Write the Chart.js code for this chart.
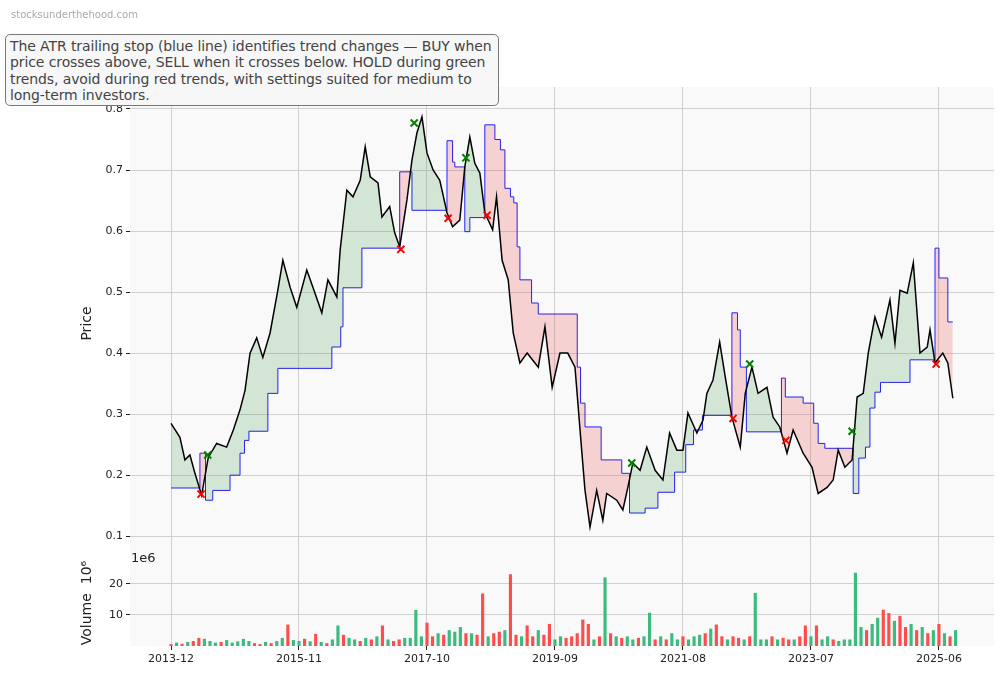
<!DOCTYPE html>
<html>
<head>
<meta charset="utf-8">
<script src="https://cdn.jsdelivr.net/npm/chart.js@4.4.1/dist/chart.umd.min.js"></script>
<style>
  body { margin: 0; background: #fff; font-family: "DejaVu Sans", sans-serif; }
  #wrap { position: relative; width: 1004px; height: 678px; }
  #mark { position: absolute; left: 11px; top: 9px; font-size: 10px; color: #aaa; }
  #note { position: absolute; left: 5px; top: 34px; width: 482px; padding: 3px 6px 2px 4px;
    border: 1.3px solid #777; border-radius: 5px; background: #f7f7f7; color: #444;
    font-size: 14px; line-height: 16.3px; white-space: nowrap; letter-spacing: -0.1px; }
  #e6 { position: absolute; left: 131px; top: 550px; font-size: 13px; color: #222; }
</style>
</head>
<body>
<div id="wrap">
  <canvas id="c" width="1004" height="678"></canvas>
  <div id="mark">stocksunderthehood.com</div>
  <div id="note">The ATR trailing stop (blue line) identifies trend changes — BUY when<br>price crosses above, SELL when it crosses below. HOLD during green<br>trends, avoid during red trends, with settings suited for medium to<br>long-term investors.</div>
  <div id="e6">1e6</div>
</div>
<script>
Chart.defaults.font.family = '"DejaVu Sans", sans-serif';

// x values are months since 2013-12
const tickMonths = [0, 23, 46, 69, 92, 115, 138];
const tickLabels = ['2013-12', '2015-11', '2017-10', '2019-09', '2021-08', '2023-07', '2025-06'];

const priceX = [0,1.6,2.5,3.4,4.3,5.5,6.7,8.2,10,11.2,12.4,13.3,14.2,15.4,16.5,17.8,19.2,20.1,21.4,22.6,
  24.4,25.5,27.1,28.2,29.8,30.4,31.6,32.7,34,34.9,35.8,37.2,37.9,39.3,40.2,41.1,42.4,43.3,44.2,45.1,
  46,47.1,48.3,49.6,50.6,51.9,52.8,53.7,54.6,55.5,56.4,57.8,58.5,59.5,60.6,61.5,62.7,64,66,67.2,
  68.5,69.9,71.3,72.6,73.8,74.4,75.3,76.5,77.6,78.3,80.1,81.2,82.1,83,84.3,85.5,87,88.4,89.6,90.9,
  92,92.9,94.5,95.6,96.3,97.4,98.6,99.6,100.8,102.3,103.2,104.4,105.5,107.1,108.2,109.4,110.7,111.8,113.6,115.2,
  116.3,117.9,119,119.9,121.1,122.4,123.3,124.4,125.3,126.5,127.7,129.2,130.1,131,132.3,133.4,134.6,135.9,136.4,137.3,
  138.7,139.6,140.5];
const priceY = [0.285,0.262,0.225,0.233,0.203,0.167,0.229,0.252,0.246,0.274,0.307,0.339,0.400,0.425,0.393,0.433,0.503,0.552,0.508,0.475,
  0.536,0.508,0.466,0.520,0.492,0.569,0.667,0.656,0.683,0.738,0.689,0.679,0.623,0.640,0.597,0.574,0.651,0.716,0.761,0.787,
  0.728,0.700,0.683,0.630,0.607,0.618,0.705,0.754,0.711,0.695,0.630,0.602,0.656,0.552,0.520,0.433,0.384,0.400,0.377,0.443,
  0.344,0.400,0.400,0.377,0.241,0.175,0.115,0.175,0.126,0.170,0.159,0.143,0.180,0.220,0.208,0.246,0.208,0.192,0.269,0.241,
  0.241,0.302,0.269,0.290,0.334,0.356,0.418,0.361,0.295,0.246,0.334,0.377,0.334,0.344,0.295,0.279,0.236,0.274,0.236,0.213,
  0.170,0.180,0.192,0.241,0.213,0.225,0.328,0.334,0.400,0.459,0.426,0.487,0.416,0.503,0.498,0.548,0.400,0.410,0.438,0.384,
  0.400,0.384,0.326];

const stopX = [0,5.2,6.2,7.5,10.6,12.4,13.2,14,17.4,19.2,28.9,30.5,30.9,34.3,41.1,43.3,49.6,50.6,51,52.8,
  53.7,56.4,58.2,59.2,60,61,61.6,62.2,62.7,64.8,66,73,73.6,74.4,77.3,81,82.4,85.2,87.5,90.5,
  92.5,93.9,95.5,100.8,101.8,102.3,103.4,109.7,110.4,113.6,115.5,116.3,117.5,122.6,123.6,124.8,125.6,126.5,127.5,132.8,
  137.3,138,139.6,140.5];
const stopY = [0.179,0.236,0.159,0.175,0.200,0.236,0.257,0.272,0.334,0.375,0.410,0.443,0.507,0.572,0.697,0.634,0.748,0.713,0.705,0.599,
  0.622,0.774,0.750,0.733,0.670,0.656,0.646,0.574,0.520,0.482,0.464,0.377,0.318,0.279,0.225,0.203,0.138,0.146,0.172,0.205,
  0.250,0.274,0.298,0.466,0.438,0.377,0.271,0.359,0.328,0.318,0.285,0.252,0.244,0.170,0.228,0.246,0.310,0.336,0.352,0.389,
  0.572,0.523,0.451,0.451];

const buyX = [6.6, 43.7, 53, 82.8, 104, 122.4];
const buyY = [0.233, 0.777, 0.720, 0.220, 0.382, 0.272];
const sellX = [5.4, 41.3, 49.8, 56.8, 101, 110.5, 137.5];
const sellY = [0.169, 0.570, 0.621, 0.626, 0.293, 0.257, 0.382];

// monthly volume, millions; 1 = up month (green), 0 = down month (red)
const volume = [0.5,1,0.6,1.2,1.5,2.5,2.2,1.5,1,1.2,1.8,
  1,1.4,2.2,1.5,0.8,0.5,1.2,0.8,1.5,2.5,6.8,1.8,
  1.5,2.2,1.4,3.8,1.2,0.8,2,6.5,3.5,2.5,2,1.5,
  2.5,2,3,6.5,2,1.5,2,2.5,2.5,11.5,3,7.4,
  3,4,3.5,5,4.5,6,4,4,3.5,16.8,3,4,
  4.5,5,23,3.5,3,6.5,3,5,3.5,7,2,3,
  2.5,3,4,8.4,7,2,3,22,4,3,2.5,3,
  2,2.5,3,10.6,2,3,2,4,2,3,2,3,
  3.5,4,5.5,6.8,3,2,3,2.5,2,3,17,2,
  2,3,2,2.5,2,2,3,6.5,3,6.5,2,3,
  2,1.5,2,2,23.5,6,5,7,9,11.6,10.5,8,
  9.6,6,7,5,6,4,5,7,4,3,5];
const volUp = [0,1,0,1,0,0,1,1,1,0,1,
  1,1,1,1,0,0,1,0,1,1,0,1,
  1,0,1,0,1,0,1,1,0,1,1,0,
  1,0,1,0,1,0,0,1,1,1,1,0,
  0,1,0,1,1,1,0,1,0,0,1,0,
  0,1,0,0,1,0,0,1,0,0,1,1,
  0,0,0,0,0,1,0,1,0,1,0,1,
  1,0,1,1,0,1,0,1,1,0,1,1,
  1,0,1,0,0,1,0,0,1,0,1,1,
  1,0,1,0,0,1,0,0,1,0,1,1,
  0,1,1,1,1,1,0,1,1,0,0,1,
  0,0,1,0,1,0,1,0,1,0,1];

const xy = (xs, ys) => xs.map((x, i) => ({x: x, y: ys[i]}));

const plotBg = {
  id: 'plotBg',
  beforeDraw(chart) {
    const ctx = chart.ctx, xa = chart.scales.x;
    ctx.save();
    ctx.fillStyle = '#f9f9f9';
    ['y', 'v'].forEach(id => {
      const s = chart.scales[id];
      ctx.fillRect(xa.left, s.top, xa.right - xa.left, s.bottom - s.top);
    });
    ctx.restore();
  }
};

const fitW = s => { s.width = 51; };

new Chart(document.getElementById('c'), {
  type: 'line',
  data: {
    datasets: [
      {
        label: 'Price', data: xy(priceX, priceY), yAxisID: 'y',
        borderColor: '#000', borderWidth: 1.5, pointRadius: 0, tension: 0, order: 2,
        fill: { target: 1, above: 'rgba(60,150,70,0.2)', below: 'rgba(235,70,70,0.22)' }
      },
      {
        label: 'ATR stop', data: xy(stopX, stopY), yAxisID: 'y', stepped: 'before',
        borderColor: '#1a1aff', borderWidth: 1, pointRadius: 0, fill: false, order: 3
      },
      {
        label: 'Buy', data: xy(buyX, buyY), yAxisID: 'y', showLine: false,
        pointStyle: 'crossRot', pointRadius: 5, borderColor: '#008000', borderWidth: 2, order: 1
      },
      {
        label: 'Sell', data: xy(sellX, sellY), yAxisID: 'y', showLine: false,
        pointStyle: 'crossRot', pointRadius: 5, borderColor: '#ff0000', borderWidth: 2, order: 1
      },
      {
        type: 'bar', label: 'Volume', yAxisID: 'v',
        data: volume.map((v, i) => ({x: i, y: v})),
        backgroundColor: volUp.map(u => u ? '#3dbb7f' : '#ff4d4d'),
        barThickness: 2.5, order: 4
      }
    ]
  },
  plugins: [plotBg],
  options: {
    responsive: false,
    animation: false,
    layout: { padding: { left: 79, right: 10, top: 87, bottom: 0 } },
    plugins: { legend: { display: false }, tooltip: { enabled: false } },
    scales: {
      x: {
        type: 'linear', min: -7.37, max: 147.9, offset: false,
        afterBuildTicks: s => { s.ticks = tickMonths.map(v => ({value: v})); },
        afterFit: s => { s.height = 32; },
        ticks: { callback: v => tickLabels[tickMonths.indexOf(v)], color: '#222', font: { size: 11 }, maxRotation: 0 },
        grid: { color: '#d0d0d0', tickLength: 4, tickColor: '#222', offset: false },
        border: { display: false }
      },
      v: {
        type: 'linear', stack: 'p', stackWeight: 86, min: 0, max: 27.7,
        afterBuildTicks: s => { s.ticks = [10, 20].map(v => ({value: v})); },
        afterFit: fitW,
        ticks: { color: '#222', font: { size: 11 } },
        grid: { color: '#d0d0d0', tickLength: 4, tickColor: '#222' },
        border: { display: false },
        title: { display: true, text: 'Volume  10⁶', color: '#222', font: { size: 14 }, padding: 0 }
      },
      y: {
        type: 'linear', stack: 'p', stackWeight: 473, min: 0.061, max: 0.836,
        afterBuildTicks: s => { s.ticks = [0.1,0.2,0.3,0.4,0.5,0.6,0.7,0.8].map(v => ({value: v})); },
        afterFit: fitW,
        ticks: { callback: v => v.toFixed(1), color: '#222', font: { size: 11 } },
        grid: { color: '#d0d0d0', tickLength: 4, tickColor: '#222' },
        border: { display: false },
        title: { display: true, text: 'Price', color: '#222', font: { size: 14 }, padding: 0 }
      }
    }
  }
});
</script>
</body>
</html>
